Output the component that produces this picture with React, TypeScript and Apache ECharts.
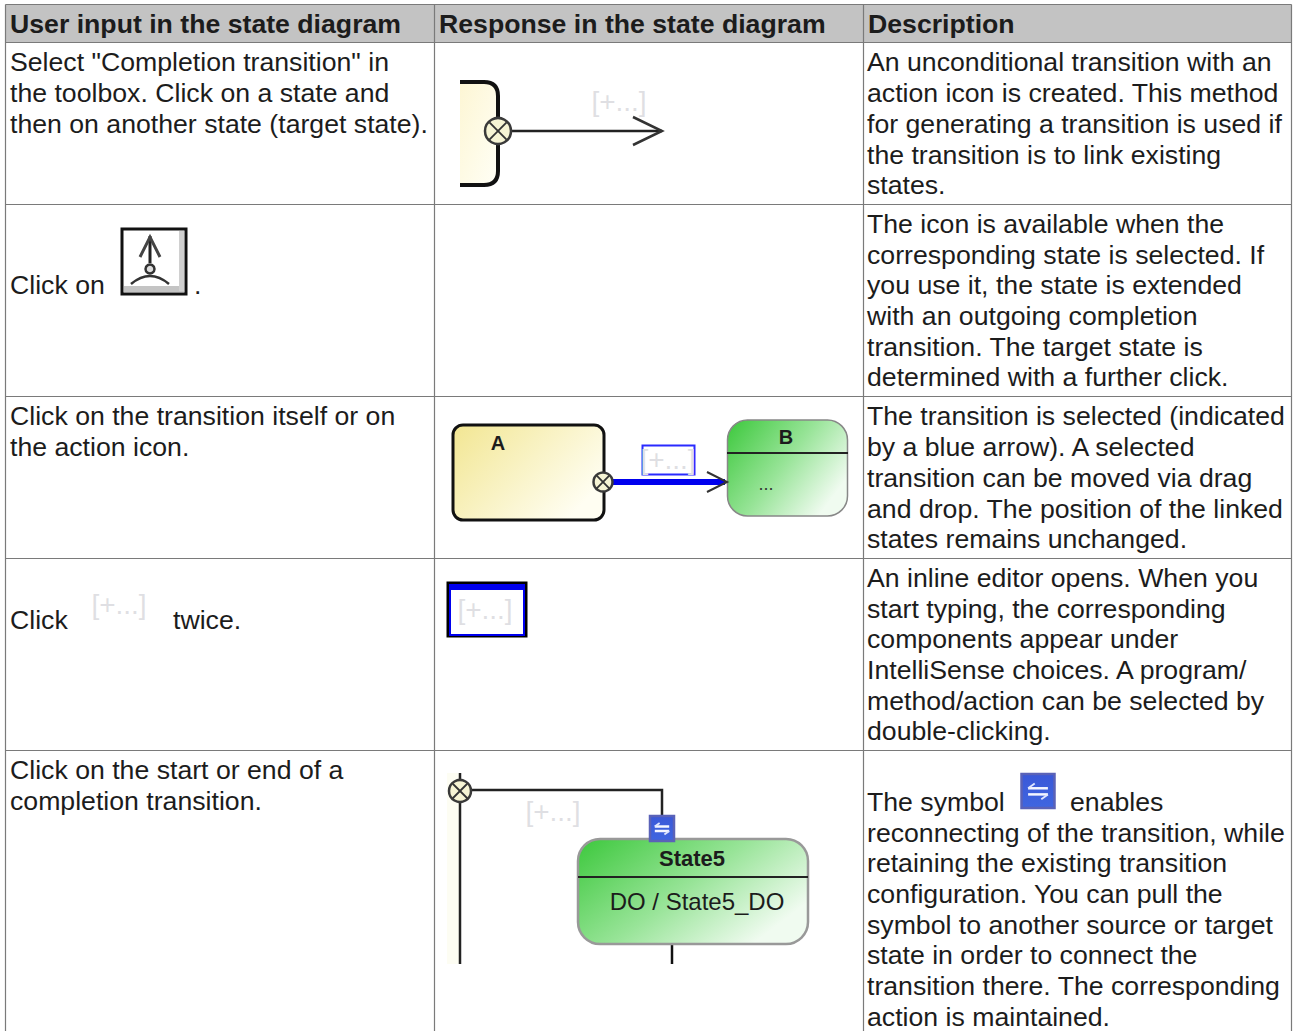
import React, { useEffect, useRef } from "react";
import * as echarts from "echarts";

const headers = ["User input in the state diagram", "Response in the state diagram", "Description"];
const colX = [5.5, 434.5, 863.5, 1291.5];
const rowY = [4.5, 42.5, 204.5, 396.5, 558.5, 750.5, 1040];
const BODY = 26.67;

const col1Row1 = ['Select "Completion transition" in', "the toolbox. Click on a state and", "then on another state (target state)."];
const col1Row3 = ["Click on the transition itself or on", "the action icon."];
const col1Row5 = ["Click on the start or end of a", "completion transition."];
const col3Row1 = ["An unconditional transition with an", "action icon is created. This method", "for generating a transition is used if", "the transition is to link existing", "states."];
const col3Row2 = ["The icon is available when the", "corresponding state is selected. If", "you use it, the state is extended", "with an outgoing completion", "transition. The target state is", "determined with a further click."];
const col3Row3 = ["The transition is selected (indicated", "by a blue arrow). A selected", "transition can be moved via drag", "and drop. The position of the linked", "states remains unchanged."];
const col3Row4 = ["An inline editor opens. When you", "start typing, the corresponding", "components appear under", "IntelliSense choices. A program/", "method/action can be selected by", "double-clicking."];
const col3Row5 = ["reconnecting of the transition, while", "retaining the existing transition", "configuration. You can pull the", "symbol to another source or target", "state in order to connect the", "transition there. The corresponding", "action is maintained."];

const FONT = '"Liberation Sans", Arial, sans-serif';
const TEXT = "#1c1c1c";
const PLACEHOLDER = "[+...]";

const grad = (stops: [number, string][], x2 = 1, y2 = 1) => ({
  type: "linear", x: 0, y: 0, x2, y2,
  colorStops: stops.map(([offset, color]) => ({ offset, color })),
});
const yellow = grad([[0, "#f2e692"], [1, "#fffef2"]], 1, 0.6);
const green = grad([[0, "#3cc83c"], [0.55, "#98e498"], [1, "#f0fbf0"]], 1, 0.6);

function txt(x: number, y: number, text: string, size = BODY, o: any = {}) {
  return {
    type: "text", x, y, silent: true,
    style: { text, fill: o.fill ?? TEXT, font: `${o.weight ?? "normal"} ${size}px ${FONT}`, align: o.align ?? "left", verticalAlign: "middle" },
  };
}
const lines = (x: number, ys: number[], arr: string[]) => arr.map((t, i) => txt(x, ys[i], t));
const seg = (x1: number, y1: number, x2: number, y2: number, stroke = "#111", lineWidth = 2) => ({
  type: "line", silent: true, shape: { x1, y1, x2, y2 }, style: { stroke, lineWidth },
});
const poly = (points: number[][], stroke = "#111", lineWidth = 2) => ({
  type: "polyline", silent: true, shape: { points }, style: { stroke, lineWidth, fill: "none" },
});
const box = (x: number, y: number, width: number, height: number, style: any, r: any = 0) => ({
  type: "rect", silent: true, shape: { x, y, width, height, r }, style,
});
const ph = (x: number, y: number, size = 28) => txt(x, y, PLACEHOLDER, size, { fill: "#dfdfe3", align: "center" });

function actionIcon(cx: number, cy: number, r: number) {
  const d = r * 0.66;
  return [
    { type: "circle", silent: true, shape: { cx, cy, r }, style: { fill: "#f6f4d4", stroke: "#3a3a3a", lineWidth: 2.5 } },
    seg(cx - d, cy - d, cx + d, cy + d, "#333", 1.8),
    seg(cx - d, cy + d, cx + d, cy - d, "#333", 1.8),
  ];
}
function swapIcon(x: number, y: number, w: number, h: number) {
  const a = y + h * 0.42, b = y + h * 0.6, l = x + w * 0.2, m = x + w * 0.8;
  return [
    box(x, y, w, h, { fill: grad([[0, "#3a58d8"], [1, "#3f66e0"]], 0, 1), stroke: "#5a62b8", lineWidth: 2.5 }),
    seg(l, a, m, a, "#f4f6ff", 2.5),
    seg(l, b, m, b, "#f4f6ff", 2.5),
    seg(l, a, l + w * 0.2, a - h * 0.14, "#dfe6ff", 1.8),
    seg(m, b, m - w * 0.2, b + h * 0.14, "#dfe6ff", 1.8),
  ];
}

echarts.graphic.registerShape("halfState", echarts.graphic.extendPath("M460 82H484Q498 82 498 96V171Q498 185 484 185H460", {}));
echarts.graphic.registerShape("baseArc", echarts.graphic.extendPath("M131 284Q150 268 169 284", {}));

function build() {
  const els: any[] = [];
  els.push(box(colX[0], rowY[0], colX[3] - colX[0], rowY[1] - rowY[0], { fill: "#c3c3c3", stroke: "none" }));
  rowY.slice(0, -1).forEach((y) => els.push(seg(colX[0], y, colX[3], y, "#7a7a7a", 1.2)));
  colX.forEach((x) => els.push(seg(x, rowY[0], x, 1031, "#7a7a7a", 1.2)));
  headers.forEach((h, i) => els.push(txt(colX[i] + 4.5, 24, h, BODY, { weight: "bold" })));

  const y1 = [62, 93, 124, 155, 185];
  const y2 = [224, 255, 285, 316, 347, 377];
  const y3 = [416, 447, 478, 509, 539];
  const y4 = [578, 609, 639, 670, 701, 731];
  const y5 = [833, 863, 894, 925, 955, 986, 1017];
  els.push(...lines(10, y1, col1Row1), txt(10, 285, "Click on"), txt(194, 285, "."));
  els.push(...lines(10, y3, col1Row3), txt(10, 620, "Click"), txt(173, 620, "twice."));
  els.push(...lines(10, [770, 801], col1Row5));
  els.push(...lines(867, y1, col3Row1), ...lines(867, y2, col3Row2), ...lines(867, y3, col3Row3), ...lines(867, y4, col3Row4));
  els.push(txt(867, 802, "The symbol"), txt(1070, 802, "enables"), ...lines(867, y5, col3Row5));

  // Row 1 diagram
  els.push(box(460, 82, 38, 103, { fill: grad([[0, "#fdf6d4"], [1, "#fffff6"]]) }, [0, 14, 14, 0]));
  els.push({ type: "halfState", silent: true, style: { fill: "none", stroke: "#111", lineWidth: 4 } });
  els.push(seg(498, 131, 662, 131, "#222", 2.5), poly([[633, 117], [662, 131], [633, 145]], "#333", 2.5));
  els.push(ph(619, 101), ...actionIcon(498, 131, 13));

  // Row 2 icon
  els.push(box(122, 229, 64, 65, { fill: "#fff", stroke: "#111", lineWidth: 3 }));
  els.push(box(124, 286, 60, 6, { fill: "#c4c4c4" }), box(179, 231, 5, 60, { fill: "#d0d0d0" }));
  els.push(seg(150, 236, 150, 263, "#222", 3), poly([[140, 257], [150, 237], [160, 257]], "#444", 3));
  els.push({ type: "circle", silent: true, shape: { cx: 150, cy: 269, r: 4.5 }, style: { fill: "#ddd", stroke: "#333", lineWidth: 2.5 } });
  els.push({ type: "baseArc", silent: true, style: { fill: "none", stroke: "#333", lineWidth: 2.5 } });
  els.push(ph(119, 604));

  // Row 3 diagram
  els.push(box(453, 425, 151, 95, { fill: yellow, stroke: "#111", lineWidth: 3 }, 10));
  els.push(txt(498, 443, "A", 20, { weight: "bold", align: "center" }));
  els.push(box(727.5, 420, 120, 96, { fill: green, stroke: "#888", lineWidth: 1.5 }, 20));
  els.push(seg(727, 453, 848, 453, "#222", 2), txt(786, 437, "B", 20, { weight: "bold", align: "center" }), txt(766, 484, "...", 18, { align: "center", fill: "#333" }));
  els.push(seg(612, 482, 725, 482, "#0000ee", 6), poly([[707, 472], [727, 482], [707, 492]], "#333", 2));
  els.push(box(642.5, 445.5, 52, 29, { fill: "#fff", stroke: "#2a2aff", lineWidth: 2 }), ph(668, 459.5), ...actionIcon(603, 482, 9.5));

  // Row 4 diagram
  els.push(box(448, 583, 78, 53, { fill: "#fff", stroke: "#000", lineWidth: 3 }));
  els.push(box(450, 585, 74, 50, { fill: "#fff", stroke: "#0000ee", lineWidth: 2 }), box(450, 585, 74, 5, { fill: "#0000ee" }));
  els.push(ph(485, 609.5));

  // Row 5 diagram
  els.push(box(447, 773, 13, 191, { fill: "#fdfdf3" }));
  els.push(seg(460, 773, 460, 964, "#222", 2.5), poly([[460, 790], [662, 790], [662, 816]], "#222", 2.5), ...actionIcon(460, 791, 11));
  els.push(ph(553, 811));
  els.push(seg(672, 944, 672, 964, "#111", 2.5));
  els.push(box(578, 839, 230, 105, { fill: green, stroke: "#999", lineWidth: 2.5 }, 22));
  els.push(seg(578, 877, 808, 877, "#222", 2));
  els.push(txt(692, 858, "State5", 22, { weight: "bold", align: "center" }), txt(697, 901, "DO / State5_DO", 24, { align: "center" }));
  els.push(...swapIcon(650, 816, 24, 25));
  els.push(...swapIcon(1021.5, 774, 33, 34));
  return els;
}

export default function App() {
  const ref = useRef<HTMLDivElement>(null);
  useEffect(() => {
    const chart = echarts.init(ref.current!, undefined, { renderer: "svg" });
    chart.setOption({ animation: false, backgroundColor: "#fff", graphic: { elements: build() } });
    return () => chart.dispose();
  }, []);
  return <div ref={ref} style={{ position: "absolute", left: 0, top: 0, width: 1297, height: 1031 }} />;
}
